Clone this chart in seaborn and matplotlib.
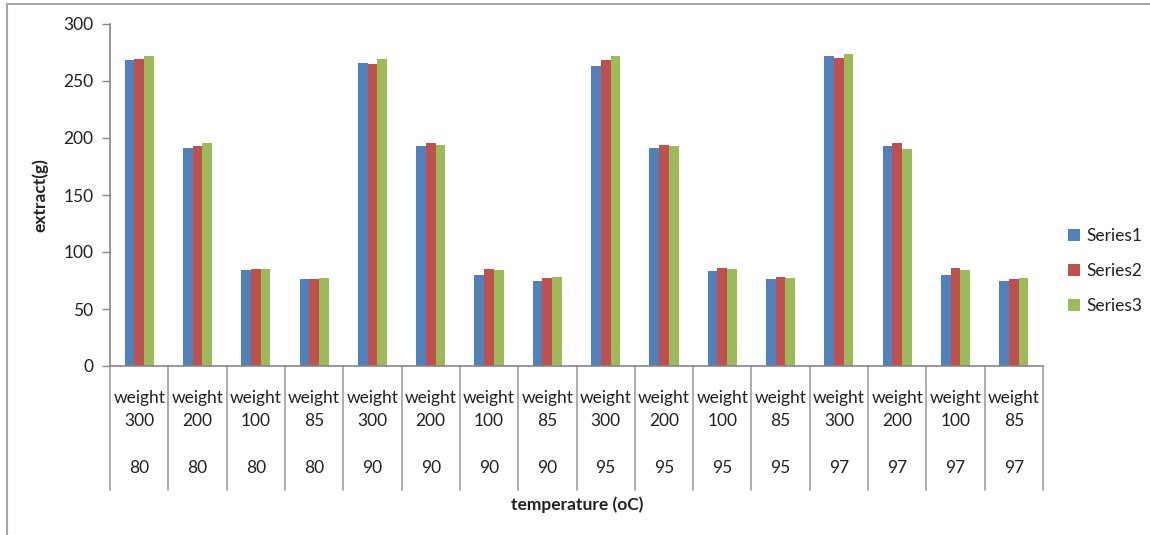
import matplotlib
matplotlib.use("Agg")
import matplotlib.pyplot as plt
import matplotlib.transforms as mtransforms
from matplotlib.patches import Rectangle
import pandas as pd
import seaborn as sns

# Category axis: extraction weight (inner level) and temperature (outer level)
weights = [300, 200, 100, 85] * 4
temperatures = [80] * 4 + [90] * 4 + [95] * 4 + [97] * 4

# Extract mass (g) for the three replicate series
series1 = [268, 191, 84, 76, 266, 193, 80, 75, 263, 191, 83, 76, 272, 193, 80, 75]
series2 = [269, 193, 85, 76, 265, 196, 85, 77, 268, 194, 86, 78, 270, 196, 86, 76]
series3 = [272, 196, 85, 77, 269, 194, 84, 78, 272, 193, 85, 77, 274, 190, 84, 77]

series_names = ["Series1", "Series2", "Series3"]
colors = ["#4F81BD", "#C0504D", "#9BBB59"]

cats = [f"{i:02d}" for i in range(len(weights))]
rows = []
for name, vals in zip(series_names, [series1, series2, series3]):
    for c, v in zip(cats, vals):
        rows.append({"cat": c, "series": name, "extract": v})
df = pd.DataFrame(rows)

sns.set_theme(style="white")
plt.rcParams["font.family"] = ["Lato", "DejaVu Sans"]
FS = 12.5
TXT = "#222222"

fig = plt.figure(figsize=(11.5, 5.35), dpi=100)
ax = fig.add_axes([110 / 1150, 1 - 366 / 535, (1043 - 110) / 1150, (366 - 24) / 535])

# Outer chart frame
fig.patches.append(Rectangle((7 / 1150, -0.01), 1.0, 1 - 4 / 535 + 0.01,
                             transform=fig.transFigure, fill=False,
                             edgecolor="#A6A6A6", linewidth=1.5))

sns.barplot(data=df, x="cat", y="extract", hue="series", order=cats,
            hue_order=series_names, palette=colors, width=0.5, saturation=1,
            edgecolor="none", ax=ax, legend=True)

ax.set_xlim(-0.5, len(cats) - 0.5)
ax.set_ylim(0, 300)
ax.set_yticks(range(0, 301, 50))
ax.tick_params(axis="y", which="major", direction="out", length=6, width=1,
               color="#868686", labelsize=FS, labelcolor=TXT, left=True, pad=6)
ax.tick_params(axis="x", length=0, labelsize=FS, labelcolor=TXT, pad=17)
ax.set_xticks(range(len(cats)))
ax.set_xticklabels([f"weight\n{w}" for w in weights], linespacing=1.55)

for side in ["top", "right"]:
    ax.spines[side].set_visible(False)
for side in ["left", "bottom"]:
    ax.spines[side].set_color("#868686")
    ax.spines[side].set_linewidth(1.2)

# Outer category row (temperature) and the divider lines of the category table
trans = mtransforms.blended_transform_factory(ax.transData, ax.transAxes)
axis_h = 366 - 24
for i, t in enumerate(temperatures):
    ax.text(i, -(468 - 366) / axis_h, str(t), transform=trans, ha="center",
            va="center", fontsize=FS, color=TXT)
for i in range(len(cats) + 1):
    ax.plot([i - 0.5, i - 0.5], [0, -(490 - 366) / axis_h], transform=trans,
            color="#A6A6A6", linewidth=1.3, clip_on=False)

ax.set_xlabel("")
ax.set_ylabel("extract(g)", fontsize=FS, fontweight="bold", color=TXT, labelpad=11)
fig.text(577 / 1150, 1 - 505 / 535, "temperature (oC)", ha="center", va="center",
         fontsize=FS, fontweight="bold", color=TXT)

leg = ax.legend(loc="center left", bbox_to_anchor=(1.018, (366 - 271) / axis_h),
                frameon=False, fontsize=FS, handlelength=0.65, handleheight=0.65,
                handletextpad=0.4, labelspacing=1.1, borderpad=0)
for txt in leg.get_texts():
    txt.set_color(TXT)

fig.savefig("out.png", dpi=100, facecolor="white")
